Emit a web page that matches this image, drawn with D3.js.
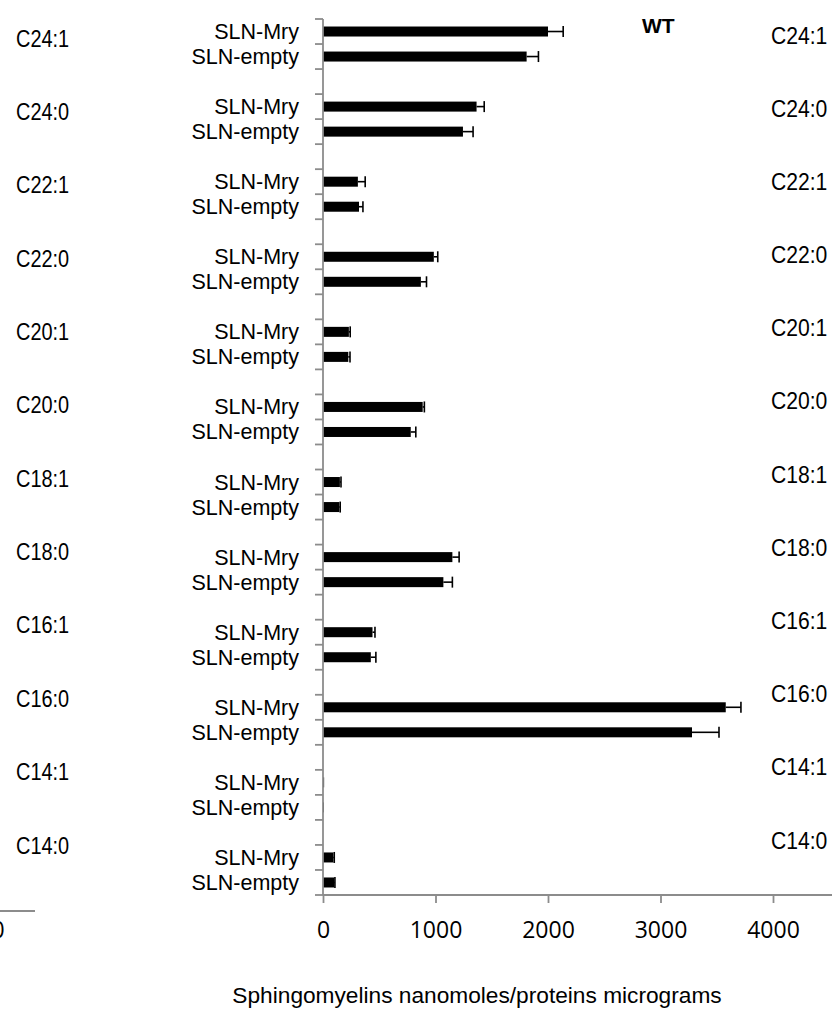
<!DOCTYPE html>
<html>
<head>
<meta charset="utf-8">
<script src="https://cdn.jsdelivr.net/npm/d3@7"></script>
<style>
  body { margin: 0; background: #fff; }
  svg { display: block; }
</style>
</head>
<body>
<div class="chart"></div>
<script>
// data (top to bottom)
var groups = ["C24:1", "C24:0", "C22:1", "C22:0", "C20:1", "C20:0",
              "C18:1", "C18:0", "C16:1", "C16:0", "C14:1", "C14:0"];
var series = ["SLN-Mry", "SLN-empty"];
var mry      = [2000, 1365, 310, 985, 230, 886, 150, 1150, 440, 3580, 10, 92];
var mryErr   = [135, 68, 65, 35, 12, 15, 10, 60, 22, 135, 0, 8];
var empty    = [1810, 1244, 320, 870, 225, 780, 145, 1070, 425, 3280, 8, 100];
var emptyErr = [105, 90, 35, 50, 15, 45, 8, 80, 45, 240, 0, 6];
var xTicks = [0, 1000, 2000, 3000, 4000];

var width = 832, height = 1010;
var axisColor = "#8c8c8c";

var svg = d3.select(".chart").append("svg")
    .attr("width", width)
    .attr("height", height);

// one row per bar, with an empty row between groups
var rows = [];
groups.forEach(function(g, i) {
  rows.push(g + "|" + series[0]);
  rows.push(g + "|" + series[1]);
  if (i < groups.length - 1) rows.push(g + "|gap");
});

var x = d3.scaleLinear().domain([0, 4000]).range([323, 773]);
var y = d3.scaleBand().domain(rows).range([19, 895]);
var barH = 10;

// bars
var data = [];
groups.forEach(function(g, i) {
  data.push({g: g, s: series[0], v: mry[i], e: mryErr[i]});
  data.push({g: g, s: series[1], v: empty[i], e: emptyErr[i]});
});
function cy(d) { return y(d.g + "|" + d.s) + y.bandwidth() / 2; }

svg.append("g").selectAll("rect")
    .data(data)
  .enter().append("rect")
    .attr("x", x(0))
    .attr("y", function(d) { return cy(d) - barH / 2; })
    .attr("width", function(d) { return Math.max(x(d.v) - x(0), 1); })
    .attr("height", barH)
    .attr("fill", "#000");

// error bars
var err = svg.append("g").attr("stroke", "#000").attr("stroke-width", 1.6);
err.selectAll("line.h")
    .data(data.filter(function(d) { return d.e > 0; }))
  .enter().append("line")
    .attr("class", "h")
    .attr("x1", function(d) { return x(d.v); })
    .attr("x2", function(d) { return x(d.v + d.e); })
    .attr("y1", cy).attr("y2", cy);
err.selectAll("line.c")
    .data(data.filter(function(d) { return d.e > 0; }))
  .enter().append("line")
    .attr("class", "c")
    .attr("x1", function(d) { return x(d.v + d.e); })
    .attr("x2", function(d) { return x(d.v + d.e); })
    .attr("y1", function(d) { return cy(d) - 5.5; })
    .attr("y2", function(d) { return cy(d) + 5.5; });

// vertical category axis with ticks on every row boundary
var yax = svg.append("g").attr("stroke", axisColor).attr("stroke-width", 1.8);
yax.append("line")
    .attr("x1", x(0)).attr("x2", x(0))
    .attr("y1", y.range()[0]).attr("y2", y.range()[1]);
var bounds = rows.map(function(r) { return y(r); }).concat([y.range()[1]]);
yax.selectAll("line.t")
    .data(bounds)
  .enter().append("line")
    .attr("class", "t")
    .attr("x1", x(0) - 8).attr("x2", x(0))
    .attr("y1", function(d) { return d; })
    .attr("y2", function(d) { return d; });

// x axis
var xAxis = svg.append("g")
    .attr("transform", "translate(0," + y.range()[1] + ")")
    .call(d3.axisBottom(x).tickValues(xTicks).tickSize(8).tickPadding(19).tickFormat(d3.format("d")));
xAxis.select(".domain").remove();
xAxis.append("line")
    .attr("x1", x(0)).attr("x2", width)
    .attr("stroke", axisColor).attr("stroke-width", 1.8);
xAxis.selectAll(".tick line").attr("stroke", axisColor).attr("stroke-width", 1.8);
xAxis.selectAll(".tick text")
    .attr("fill", "#000")
    .style("font-family", "'Open Sans', sans-serif")
    .style("font-size", "23px");

// series labels next to the bars
svg.append("g").selectAll("text")
    .data(data)
  .enter().append("text")
    .attr("x", 299)
    .attr("y", function(d) { return cy(d) + 7.5; })
    .attr("text-anchor", "end")
    .style("font-family", "'Liberation Sans', Arial, sans-serif")
    .style("font-size", "21.5px")
    .text(function(d) { return d.s; });

// group labels on both sides (narrow text)
var leftPos = d3.scalePoint().domain(groups).range([38, 845]);
var rightPos = d3.scalePoint().domain(groups).range([35, 840]);

svg.append("g").selectAll("g")
    .data(groups)
  .enter().append("g")
    .attr("transform", function(d) { return "translate(16," + (leftPos(d) + 8.5) + ") scale(0.83,1)"; })
  .append("text")
    .style("font-family", "'Liberation Sans', Arial, sans-serif")
    .style("font-size", "24px")
    .text(function(d) { return d; });

svg.append("g").selectAll("g")
    .data(groups)
  .enter().append("g")
    .attr("transform", function(d) { return "translate(771," + (rightPos(d) + 8.5) + ") scale(0.88,1)"; })
  .append("text")
    .style("font-family", "'Liberation Sans', Arial, sans-serif")
    .style("font-size", "24px")
    .text(function(d) { return d; });

// panel title
svg.append("text")
    .attr("x", 642).attr("y", 33)
    .style("font-family", "'Liberation Sans', Arial, sans-serif")
    .style("font-size", "21px")
    .style("font-weight", "bold")
    .text("WT");

// x axis title
svg.append("text")
    .attr("x", 477).attr("y", 1003)
    .attr("text-anchor", "middle")
    .style("font-family", "'Liberation Sans', Arial, sans-serif")
    .style("font-size", "22.7px")
    .text("Sphingomyelins nanomoles/proteins micrograms");

// edge of the neighbouring panel, cut off at the left
svg.append("line")
    .attr("x1", 0).attr("x2", 35)
    .attr("y1", 911).attr("y2", 911)
    .attr("stroke", axisColor).attr("stroke-width", 1.8);
svg.append("text")
    .attr("x", -2).attr("y", 938)
    .attr("text-anchor", "middle")
    .style("font-family", "'Open Sans', sans-serif")
    .style("font-size", "23px")
    .text("0");
</script>
</body>
</html>
